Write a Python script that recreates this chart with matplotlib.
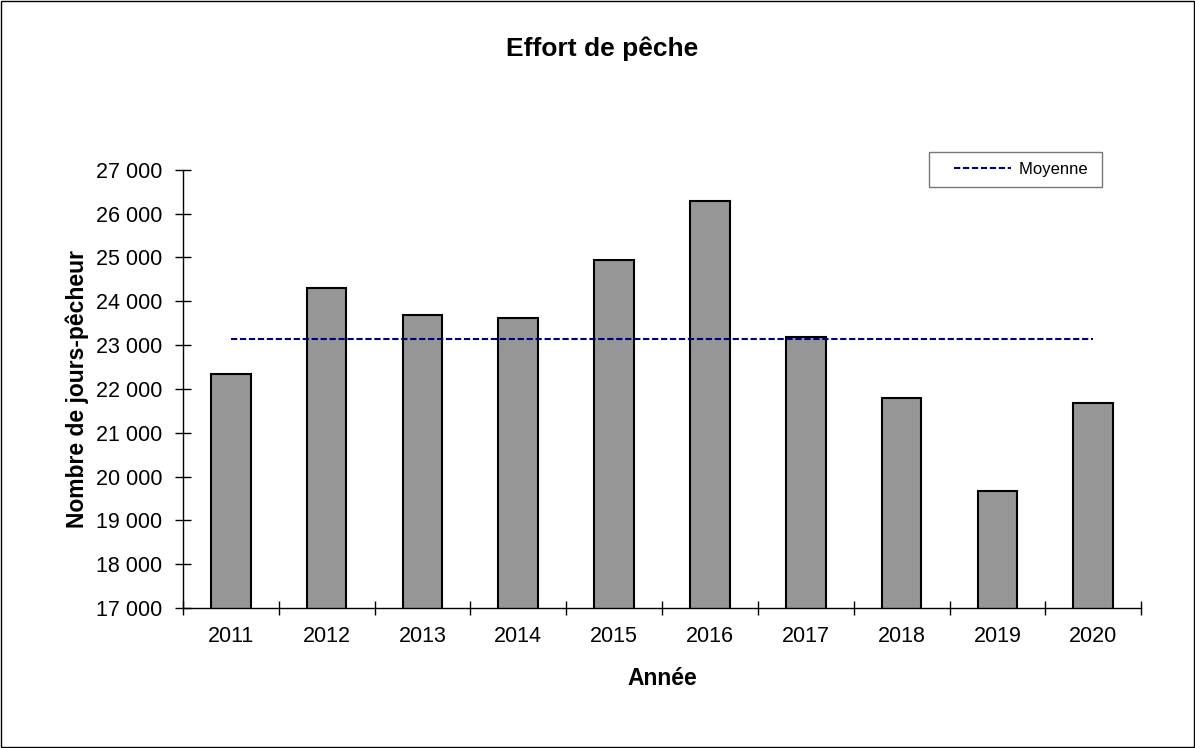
import numpy as np
import matplotlib
matplotlib.use("Agg")
import matplotlib.pyplot as plt
from matplotlib.ticker import FuncFormatter, FixedLocator
from matplotlib.patches import Rectangle
from matplotlib.legend_handler import HandlerLine2D

plt.rcParams['font.family'] = ['Liberation Sans', 'DejaVu Sans']

YEARS = ["2011", "2012", "2013", "2014", "2015", "2016", "2017", "2018", "2019", "2020"]
EFFORT = [22330, 24310, 23680, 23625, 24940, 26280, 23190, 21800, 19670, 21680]
MEAN_LABEL = "Moyenne"


def thousands(v, _pos):
    return f"{int(round(v)):,}".replace(",", " ")


def main():
    fig = plt.figure(figsize=(11.95, 7.48), dpi=100)
    ax = fig.add_axes([0.153, 0.187, 0.802, 0.586])

    x = np.arange(len(YEARS))
    ax.bar(x, EFFORT, width=0.414, color="#969696", edgecolor="black",
           linewidth=1.5, zorder=2)

    mean = np.mean(EFFORT)
    mean_line, = ax.plot([x[0], x[-1]], [mean, mean], color="#000080", lw=1.5,
                         linestyle=(0, (3, 1.3)), label=MEAN_LABEL, zorder=3)

    ax.set_xlim(-0.5, len(YEARS) - 0.5)
    ax.set_ylim(17000, 27000)

    # boundaries get the tick marks, centres carry the labels
    ax.xaxis.set_major_locator(FixedLocator(np.arange(-0.5, len(YEARS), 1.0)))
    ax.xaxis.set_major_formatter(FuncFormatter(lambda v, p: ""))
    ax.xaxis.set_minor_locator(FixedLocator(x))
    ax.set_xticklabels(YEARS, minor=True)
    ax.tick_params(axis="x", which="major", direction="inout", length=9.5,
                   width=1)
    ax.tick_params(axis="x", which="minor", length=0, pad=13, labelsize=15.5)

    ax.yaxis.set_major_locator(FixedLocator(np.arange(17000, 27001, 1000)))
    ax.yaxis.set_major_formatter(FuncFormatter(thousands))
    ax.tick_params(axis="y", direction="inout", length=11, width=1,
                   pad=9.5, labelsize=15.5)

    for s in ["top", "right"]:
        ax.spines[s].set_visible(False)
    ax.spines["left"].set_linewidth(1)
    ax.spines["bottom"].set_linewidth(1)

    ax.set_xlabel("Année", fontsize=16.5, fontweight="bold", labelpad=14)
    ax.set_ylabel("Nombre de jours-pêcheur", fontsize=16.5, fontweight="bold",
                  labelpad=5)

    fig.text(0.504, 0.935, "Effort de pêche", ha="center", va="center",
             fontsize=19, fontweight="bold")

    leg = ax.legend(handles=[mean_line], loc="upper right",
                    bbox_to_anchor=(0.922, 0.797),
                    bbox_transform=fig.transFigure, fontsize=12,
                    frameon=True, fancybox=False, handlelength=4.3,
                    handletextpad=0.45, borderpad=0.6, borderaxespad=0,
                    handler_map={mean_line: HandlerLine2D(xpad=0.9)})
    leg.get_frame().set_edgecolor("#555555")
    leg.get_frame().set_linewidth(1)
    # a bit of extra room after the label, like the original box
    leg.get_texts()[0].set_text(MEAN_LABEL + " ")

    fig.patches.append(Rectangle((0.0005, 0.0008), 0.999, 0.9985,
                                 transform=fig.transFigure, fill=False,
                                 edgecolor="black", lw=1))

    fig.savefig("out.png", dpi=100)


if __name__ == "__main__":
    main()
